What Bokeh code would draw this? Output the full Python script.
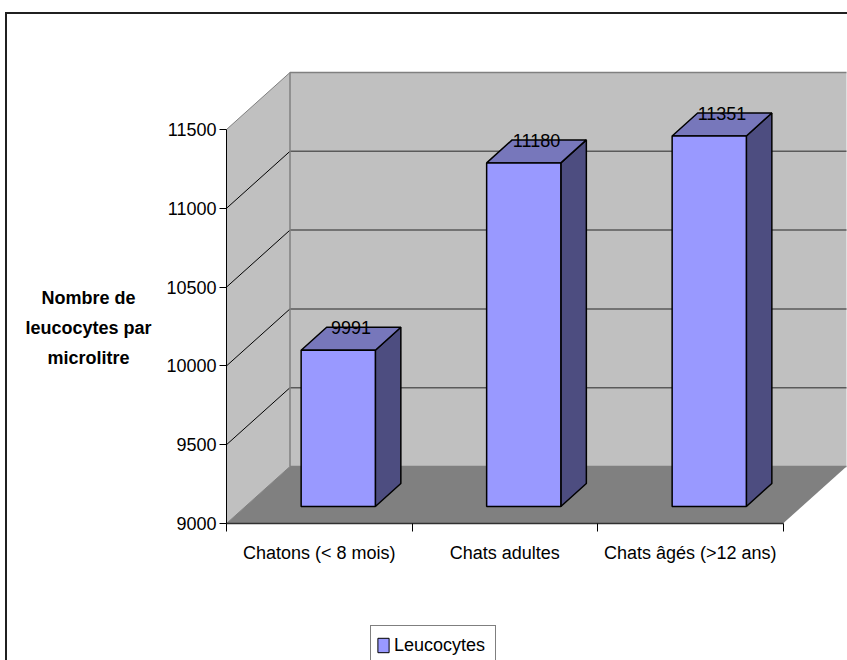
from bokeh.embed import file_html
from bokeh.layouts import column, row
from bokeh.resources import INLINE
from bokeh.plotting import figure
from bokeh.core.properties import value
from bokeh.models import FixedTicker, Legend, LegendItem, LinearAxis, Range1d

# Chart data
categories = ["Chatons (< 8 mois)", "Chats adultes", "Chats âgés (>12 ans)"]
leucocytes = [9991, 11180, 11351]
y_ticks = [9000, 9500, 10000, 10500, 11000, 11500]
y_title = ["Nombre de", "leucocytes par", "microlitre"]
series_name = "Leucocytes"

# Oblique projection used for the pseudo-3D box, in data units
WALL_DX, WALL_DY = 0.3423, 361.7
BAR_DX, BAR_DY = 0.1375, 146.0
BAR_X0, BAR_Y0 = 0.1024, 108.0
GAP = 0.3
BAR_W = 0.4

FONT = "Liberation Sans"
SIZE = "18px"

# The chart-area border runs off the page to the right and bottom; the figures sit inside it
OFF_X, OFF_Y = 7, 14
TITLE_RIGHT = 157
FRAME_LEFT, FRAME_TOP, FRAME_BOTTOM = 226, 60, 523
LEGEND_STRIP_TOP = 625

p = figure(width=847 - TITLE_RIGHT, height=LEGEND_STRIP_TOP - OFF_Y, output_backend="svg",
           toolbar_location=None,
           x_range=Range1d(0, 621 / 185.5),
           y_range=Range1d(9000, 9000 + (FRAME_BOTTOM - FRAME_TOP) / 0.1576),
           x_axis_location=None, y_axis_location=None,
           min_border_left=FRAME_LEFT - TITLE_RIGHT, min_border_right=0,
           min_border_top=FRAME_TOP - OFF_Y, min_border_bottom=LEGEND_STRIP_TOP - FRAME_BOTTOM)
p.grid.visible = False
p.outline_line_color = None
p.background_fill_color = "white"
p.border_fill_color = "white"

y_min, y_max = y_ticks[0], y_ticks[-1]
n = len(categories)

# Walls and floor
p.patch([0, WALL_DX, WALL_DX, 0], [y_min, y_min + WALL_DY, y_max + WALL_DY, y_max],
        fill_color="#C0C0C0", line_color=None)
p.patch([WALL_DX, n + WALL_DX, n + WALL_DX, WALL_DX],
        [y_min + WALL_DY, y_min + WALL_DY, y_max + WALL_DY, y_max + WALL_DY],
        fill_color="#C0C0C0", line_color=None)
p.patch([0, n, n + WALL_DX, WALL_DX], [y_min, y_min, y_min + WALL_DY, y_min + WALL_DY],
        fill_color="#808080", line_color=None)

# Gridlines on the back wall and the side wall
for t in y_ticks:
    is_edge = t in (y_min, y_max)
    p.line([WALL_DX, n + WALL_DX], [t + WALL_DY, t + WALL_DY],
           line_color="#808080" if is_edge else "#5A5A5A", line_width=1.5)
    p.line([0, WALL_DX], [t, t + WALL_DY],
           line_color="#808080" if is_edge else "black", line_width=1)
p.line([WALL_DX, WALL_DX], [y_min + WALL_DY, y_max + WALL_DY], line_color="#808080", line_width=1.5)

# Bars: side, top and front faces
for i, v in enumerate(leucocytes):
    l = i + GAP + BAR_X0
    r = l + BAR_W
    b = y_min + BAR_Y0
    t = v + BAR_Y0
    p.patch([r, r + BAR_DX, r + BAR_DX, r], [b, b + BAR_DY, t + BAR_DY, t],
            fill_color="#4D4D80", line_color="black", line_width=1.5)
    p.patch([l, r, r + BAR_DX, l + BAR_DX], [t, t, t + BAR_DY, t + BAR_DY],
            fill_color="#7777BB", line_color="black", line_width=1.5)
    p.quad(left=[l], right=[r], bottom=[b], top=[t],
           fill_color="#9999FF", line_color="black", line_width=1.5)

# Value labels above the bars
p.text(x=[i + GAP + BAR_X0 + BAR_W / 2 + BAR_DX / 2 for i in range(n)],
       y=[v + BAR_Y0 + BAR_DY / 2 for v in leucocytes],
       text=[str(v) for v in leucocytes],
       text_font=value(FONT), text_font_size=value(SIZE), text_color="black",
       text_align="center", text_baseline="middle", y_offset=-11)

# Axes
yaxis = LinearAxis(ticker=FixedTicker(ticks=y_ticks), bounds=(y_min, y_max))
yaxis.major_tick_in = 0
yaxis.major_tick_out = 7
yaxis.minor_tick_line_color = None
yaxis.axis_line_color = "black"
yaxis.major_label_text_font = FONT
yaxis.major_label_text_font_size = SIZE
yaxis.major_label_text_color = "black"
yaxis.major_label_standoff = 3
p.add_layout(yaxis, "left")

xaxis = LinearAxis(ticker=FixedTicker(ticks=[i + 0.5 for i in range(n)],
                                      minor_ticks=list(range(n + 1))),
                   bounds=(0, n))
xaxis.major_label_overrides = {i + 0.5: c for i, c in enumerate(categories)}
xaxis.major_tick_line_color = None
xaxis.major_tick_in = 0
xaxis.major_tick_out = 0
xaxis.minor_tick_in = 0
xaxis.minor_tick_out = 8
xaxis.minor_tick_line_color = "black"
xaxis.axis_line_color = "#303030"
xaxis.axis_line_width = 1.5
xaxis.major_label_text_font = FONT
xaxis.major_label_text_font_size = SIZE
xaxis.major_label_text_color = "black"
xaxis.major_label_standoff = 11
p.add_layout(xaxis, "below")

# Title of the value axis, in a narrow figure to the left of the plot; its data units are page
# pixels, and the row lines its frame up with the plot's frame vertically
title_fig = figure(width=TITLE_RIGHT - OFF_X, height=LEGEND_STRIP_TOP - OFF_Y, output_backend="svg",
                   toolbar_location=None,
                   x_range=Range1d(OFF_X, TITLE_RIGHT), y_range=Range1d(FRAME_BOTTOM, FRAME_TOP),
                   x_axis_location=None, y_axis_location=None,
                   min_border_left=0, min_border_right=0, min_border_top=0, min_border_bottom=0)
title_fig.grid.visible = False
title_fig.outline_line_color = None
title_fig.text(x=[88, 88, 88], y=[297, 327, 357], text=y_title,
               text_font=value(FONT), text_font_size=value(SIZE), text_font_style="bold",
               text_color="black", text_align="center", text_baseline="middle")

# Legend strip under the plot; its box continues past the bottom of the page
strip = figure(width=847 - OFF_X, height=660 - LEGEND_STRIP_TOP, output_backend="svg",
               toolbar_location=None, x_range=Range1d(0, 1), y_range=Range1d(0, 1),
               x_axis_location=None, y_axis_location=None,
               min_border_left=0, min_border_right=0, min_border_top=0, min_border_bottom=0)
strip.grid.visible = False
strip.outline_line_color = None
# The strip's own ranges stop at 1, so only the legend shows this series' swatch
swatch = strip.quad(left=[2], right=[3], bottom=[0], top=[1],
                    fill_color="#9999FF", line_color="black", line_width=1)
strip.add_layout(Legend(items=[LegendItem(label=series_name, renderers=[swatch])],
                        location=(370 - OFF_X, -5), orientation="vertical",
                        border_line_color="black", border_line_width=1.5,
                        background_fill_color="white", background_fill_alpha=1,
                        label_text_font=FONT, label_text_font_size=SIZE, label_text_color="black",
                        glyph_width=14, glyph_height=18, label_width=96, label_height=28,
                        padding=5, margin=0, label_standoff=4))

page = column(row(title_fig, p, spacing=0), strip, spacing=0, margin=(OFF_Y - 2, 0, 0, OFF_X - 2),
              styles={"border-left": "2px solid #202020", "border-top": "2px solid #202020"})

open("out.html", "w").write(file_html(page, INLINE))
